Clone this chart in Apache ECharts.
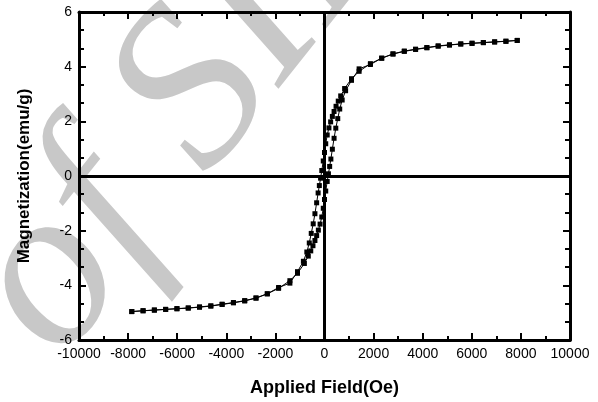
<!DOCTYPE html>
<html>
<head>
<meta charset="utf-8">
<script src="https://cdn.jsdelivr.net/npm/echarts@6/dist/echarts.min.js"></script>
<style>
  html, body { margin: 0; padding: 0; background: #fff; }
  #chart { width: 598px; height: 402px; }
</style>
</head>
<body>
<div id="chart"></div>
<script>
// descending branch (from +H saturation down to -H saturation)
const downField = [7850, 7390, 6930, 6470, 6010, 5550, 5090, 4630, 4170, 3710, 3250, 2790, 2330, 1870, 1410, 1100, 820, 660, 560, 470, 390, 320, 250, 180, 110, 50, 0, -50, -110, -160, -210, -260, -320, -390, -460, -540, -620, -720, -860, -1100, -1410, -1870, -2330, -2790, -3250, -3710, -4170, -4630, -5090, -5550, -6010, -6470, -6930, -7390, -7850];
const downMoment = [4.96, 4.93, 4.91, 4.88, 4.86, 4.83, 4.80, 4.76, 4.70, 4.64, 4.57, 4.47, 4.31, 4.11, 3.83, 3.56, 3.20, 2.93, 2.74, 2.55, 2.36, 2.18, 1.98, 1.76, 1.50, 1.18, 0.86, 0.55, 0.20, -0.08, -0.35, -0.62, -0.98, -1.38, -1.75, -2.10, -2.45, -2.78, -3.12, -3.50, -3.92, -4.08, -4.31, -4.46, -4.56, -4.63, -4.69, -4.75, -4.79, -4.83, -4.85, -4.88, -4.90, -4.93, -4.96];

// ascending branch (from -H saturation back up)
const upField = [-7850, -7390, -6930, -6470, -6010, -5550, -5090, -4630, -4170, -3710, -3250, -2790, -2330, -1870, -1410, -1100, -820, -660, -560, -470, -390, -320, -250, -180, -110, -50, 0, 50, 110, 160, 210, 260, 320, 390, 460, 540, 620, 720, 860, 1100, 1410, 1870, 2330, 2790, 3250, 3710, 4170, 4630, 5090, 5550, 6010, 6470, 6930, 7390, 7850];
const upMoment = [-4.96, -4.93, -4.91, -4.88, -4.86, -4.83, -4.80, -4.76, -4.70, -4.64, -4.57, -4.47, -4.31, -4.11, -3.83, -3.56, -3.20, -2.93, -2.74, -2.55, -2.36, -2.18, -1.98, -1.76, -1.50, -1.18, -0.86, -0.55, -0.20, 0.08, 0.35, 0.62, 0.98, 1.38, 1.75, 2.10, 2.45, 2.78, 3.12, 3.50, 3.92, 4.08, 4.31, 4.46, 4.56, 4.63, 4.69, 4.75, 4.79, 4.83, 4.85, 4.88, 4.90, 4.93, 4.96];

const xTicks = [-10000, -8000, -6000, -4000, -2000, 0, 2000, 4000, 6000, 8000, 10000];
const yTicks = [-6, -4, -2, 0, 2, 4, 6];

const font = '"Liberation Sans", Arial, sans-serif';

const pairs = (xs, ys) => xs.map((x, i) => [x, ys[i]]);

const chart = echarts.init(document.getElementById('chart'), null, {renderer: 'canvas'});

// shared look of the frame axes: thick black line, ticks pointing inward
const frameX = (position, showLabel) => ({
    type: 'value',
    position,
    min: xTicks[0],
    max: xTicks[xTicks.length - 1],
    interval: 2000,
    axisLine: {show: true, onZero: false, lineStyle: {color: '#000', width: 3}},
    axisTick: {show: true, inside: true, length: 7, lineStyle: {color: '#000', width: 2}},
    minorTick: {show: true, splitNumber: 2, length: 4, lineStyle: {color: '#000', width: 2}},
    axisLabel: {show: showLabel, color: '#000', fontFamily: font, fontSize: 14, margin: 7, formatter: v => String(v)},
    splitLine: {show: false}
});

const frameY = (position, showLabel) => ({
    type: 'value',
    position,
    min: yTicks[0],
    max: yTicks[yTicks.length - 1],
    interval: 2,
    axisLine: {show: true, onZero: false, lineStyle: {color: '#000', width: 3}},
    axisTick: {show: true, inside: true, length: 7, lineStyle: {color: '#000', width: 2}},
    minorTick: {show: true, splitNumber: 3, length: 5, lineStyle: {color: '#000', width: 2}},
    axisLabel: {show: showLabel, color: '#000', fontFamily: font, fontSize: 14, margin: 7, formatter: v => String(v)},
    splitLine: {show: false}
});

const markerSeries = (name, data) => ({
    name,
    type: 'line',
    data,
    symbol: 'rect',
    symbolSize: 5,
    showAllSymbol: true,
    itemStyle: {color: '#000'},
    lineStyle: {color: '#000', width: 1},
    animation: false,
    z: 3
});

const bottomX = Object.assign(frameX('bottom', true), {
    name: 'Applied Field(Oe)',
    nameLocation: 'middle',
    nameGap: 39,
    nameTextStyle: {color: '#000', fontFamily: font, fontSize: 18, fontWeight: 'bold'}
});
const leftY = Object.assign(frameY('left', true), {
    name: 'Magnetization(emu/g)',
    nameLocation: 'middle',
    nameGap: 46,
    nameTextStyle: {color: '#000', fontFamily: font, fontSize: 17, fontWeight: 'bold'}
});

const down = markerSeries('down', pairs(downField, downMoment));
// zero lines through the origin
down.markLine = {
    silent: true,
    symbol: 'none',
    label: {show: false},
    animation: false,
    lineStyle: {color: '#000', width: 3, type: 'solid'},
    emphasis: {disabled: true},
    data: [{xAxis: 0}, {yAxis: 0}]
};

chart.setOption({
    backgroundColor: '#fff',
    animation: false,
    grid: {left: 79, right: 28, top: 12, bottom: 60},
    graphic: [{
        type: 'text',
        z: -10,
        silent: true,
        x: 170,
        y: 128,
        rotation: 0.9,
        style: {
            text: 'of SII',
            font: 'italic 230px "Liberation Serif", serif',
            fill: '#c8c8c8',
            textAlign: 'center',
            textVerticalAlign: 'middle'
        }
    }],
    xAxis: [bottomX, frameX('top', false)],
    yAxis: [leftY, frameY('right', false)],
    series: [
        down,
        markerSeries('up', pairs(upField, upMoment))
    ]
});
</script>
</body>
</html>
